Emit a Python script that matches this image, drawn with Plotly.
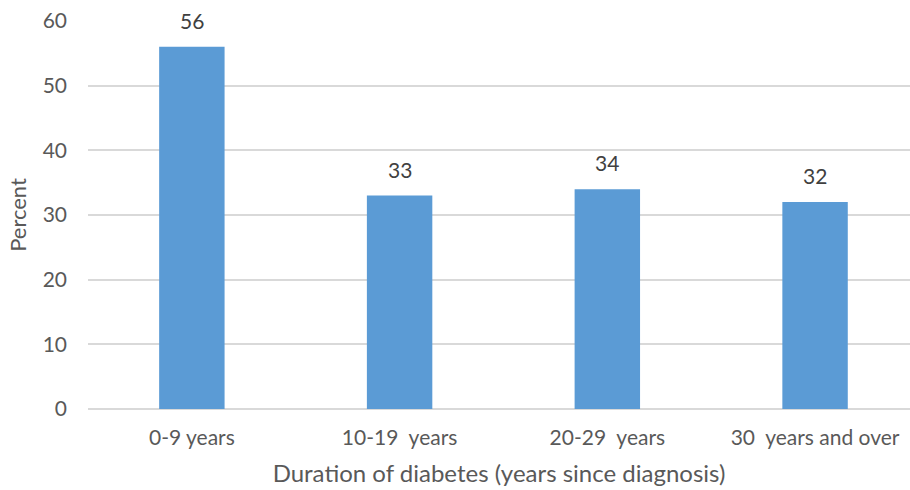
import plotly.graph_objects as go

categories = ["0-9 years", "10-19\u00a0 years", "20-29\u00a0 years", "30\u00a0 years and over"]
percent = [56, 33, 34, 32]
y_ticks = [0, 10, 20, 30, 40, 50, 60]

font_family = "Lato, 'Open Sans', sans-serif"
x_pos = list(range(len(categories)))

fig = go.Figure(
    go.Bar(
        x=x_pos,
        y=percent,
        marker=dict(color="#5B9BD5", line=dict(width=0)),
        width=0.315,
        hoverinfo="skip",
    )
)

# value labels above each bar
for xi, v in zip(x_pos, percent):
    fig.add_annotation(
        x=xi,
        y=v,
        text=str(v),
        showarrow=False,
        yanchor="bottom",
        yshift=12,
        font=dict(family=font_family, size=21, color="#404040"),
    )

fig.update_layout(
    width=910,
    height=490,
    margin=dict(l=88, r=0, t=21, b=81),
    paper_bgcolor="white",
    plot_bgcolor="white",
    showlegend=False,
    font=dict(family=font_family, color="#595959"),
)

fig.update_xaxes(
    tickmode="array",
    tickvals=x_pos,
    ticktext=categories,
    range=[-0.5, 3.457],
    showgrid=False,
    showline=False,
    zeroline=False,
    ticks="",
    tickfont=dict(family=font_family, size=21, color="#595959"),
    ticklabelstandoff=14,
    title=dict(
        text="Duration of diabetes (years since diagnosis)",
        font=dict(family=font_family, size=24, color="#595959"),
        standoff=17,
    ),
)

fig.update_yaxes(
    range=[0, 60],
    tickmode="array",
    tickvals=y_ticks,
    showgrid=True,
    gridcolor="#D9D9D9",
    gridwidth=1.5,
    zeroline=True,
    zerolinecolor="#D9D9D9",
    zerolinewidth=1.5,
    showline=False,
    ticks="",
    tickfont=dict(family=font_family, size=21, color="#595959"),
    ticklabelstandoff=20,
    title=dict(
        text="Percent",
        font=dict(family=font_family, size=22, color="#595959"),
        standoff=9,
    ),
)

fig.write_html("out.html")
